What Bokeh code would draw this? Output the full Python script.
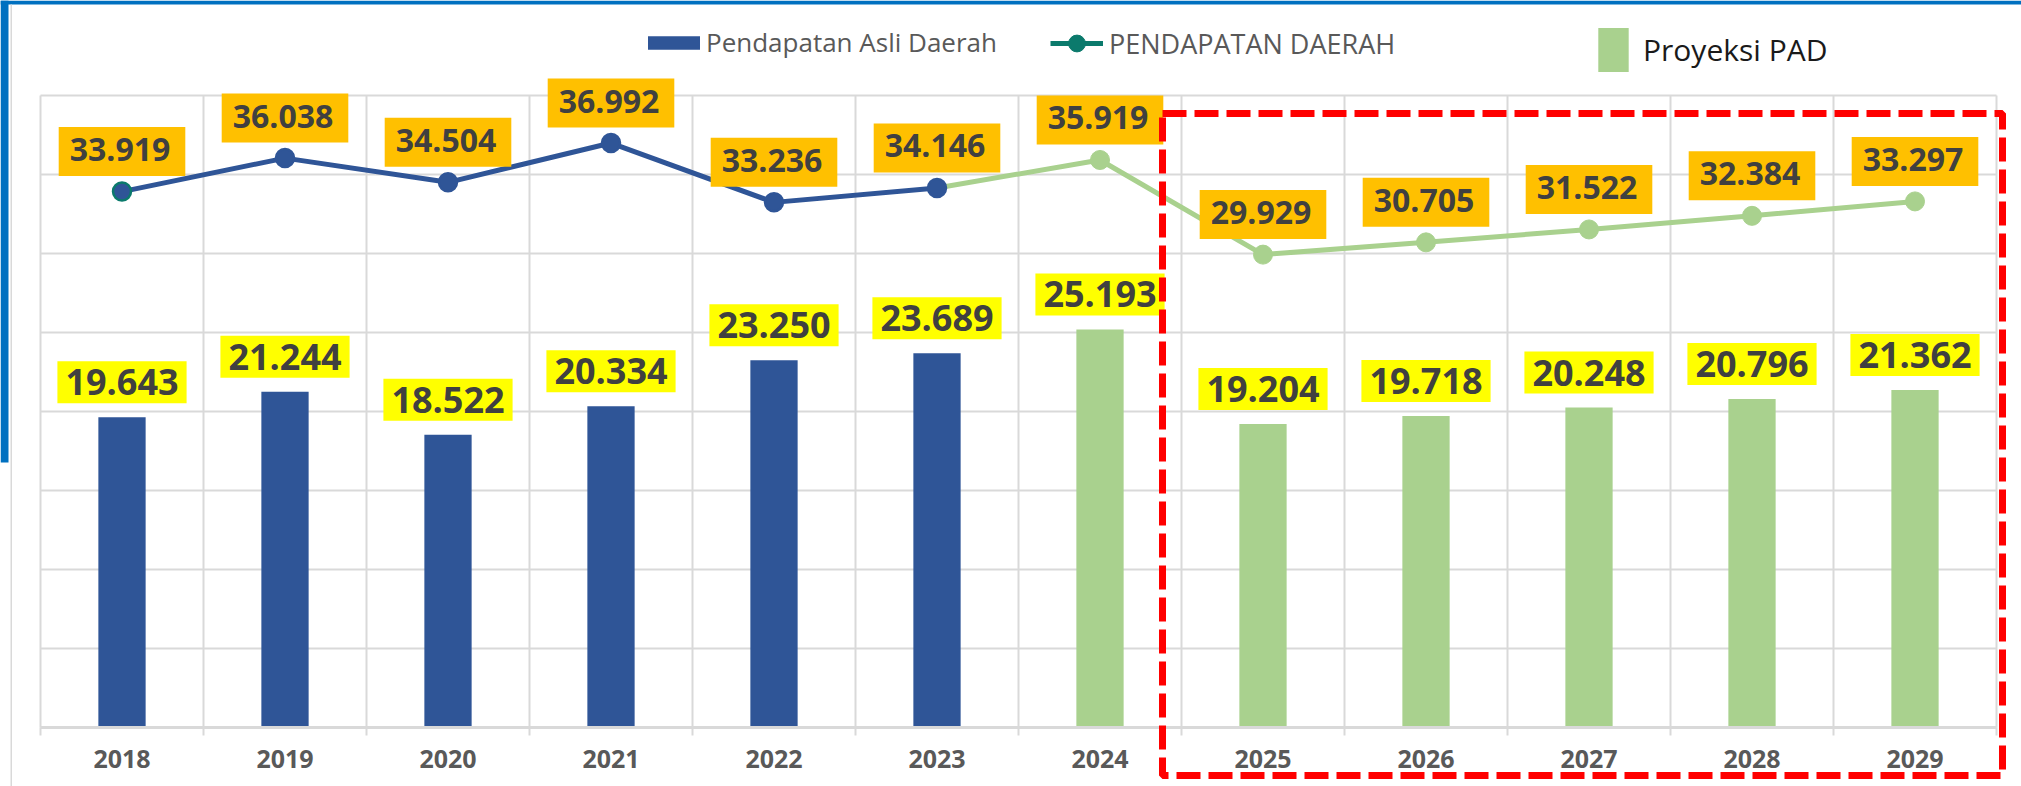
import numpy as np
from bokeh.plotting import figure
from bokeh.models import (Range1d, FixedTicker, Label, BoxAnnotation, Legend, LegendItem)
from bokeh.embed import file_html
from bokeh.resources import INLINE

# ---------------- data ----------------
years = ["2018", "2019", "2020", "2021", "2022", "2023",
         "2024", "2025", "2026", "2027", "2028", "2029"]
pad_values = [19.643, 21.244, 18.522, 20.334, 23.250, 23.689,
              25.193, 19.204, 19.718, 20.248, 20.796, 21.362]      # Pendapatan Asli Daerah (bars)
pd_values = [33.919, 36.038, 34.504, 36.992, 33.236, 34.146,
             35.919, 29.929, 30.705, 31.522, 32.384, 33.297]       # Pendapatan Daerah (line)
n_realised_bars = 6      # 2018-2023 realised, 2024+ projected (PAD bars)
n_realised_line = 6      # line blue up to 2023, green afterwards
y_ticks = [0, 5, 10, 15, 20, 25, 30, 35, 40]
y_max = 40

# ---------------- layout / styles ----------------
W, H = 2021, 786
AREA_L, AREA_R, AREA_T, AREA_B = 40, 1996, 95, 727     # chart area in canvas pixels
BLUE = "#2F5597"
GREEN = "#A9D18E"
TEAL = "#0B7A6C"
GRID = "#D9D9D9"
LABEL_TXT = "#404040"
FONT = "Open Sans"

n = len(years)
xc = np.arange(n) + 0.5

ppx = (AREA_R - AREA_L) / n          # pixels per category
ppy = (AREA_B - AREA_T) / y_max      # pixels per value unit
x_range = Range1d(-AREA_L / ppx, n + (W - AREA_R) / ppx)
y_range = Range1d(-(H - AREA_B) / ppy, y_max + AREA_T / ppy)

p = figure(width=W, height=H, x_range=x_range, y_range=y_range,
           output_backend="svg", toolbar_location=None,
           min_border_left=0, min_border_right=0, min_border_top=0, min_border_bottom=0,
           outline_line_color=None, background_fill_color="white", border_fill_color="white")

p.yaxis.visible = False
p.ygrid.ticker = FixedTicker(ticks=y_ticks)
p.xgrid.ticker = FixedTicker(ticks=list(range(n + 1)))
p.xgrid.cross_bounds = (0, y_max)
p.ygrid.cross_bounds = (0, n)
for g in (p.xgrid[0], p.ygrid[0]):
    g.grid_line_color = GRID
    g.grid_line_width = 2

ax = p.xaxis[0]
ax.fixed_location = 0
ax.bounds = (0, n)
ax.ticker = FixedTicker(ticks=list(xc), minor_ticks=list(range(n + 1)))
ax.major_label_overrides = {float(v): yr for v, yr in zip(xc, years)}
ax.axis_line_color = GRID
ax.axis_line_width = 3
ax.major_tick_line_color = None
ax.major_tick_out = 0
ax.major_tick_in = 0
ax.minor_tick_line_color = GRID
ax.minor_tick_line_width = 2
ax.minor_tick_out = 8
ax.minor_tick_in = 0
ax.major_label_standoff = 14
ax.major_label_text_font = FONT
ax.major_label_text_font_style = "bold"
ax.major_label_text_font_size = "25px"
ax.major_label_text_color = "#595959"

# ---------------- bars ----------------
bw = 0.29
r_bar_blue = p.vbar(x=xc[:n_realised_bars], top=pad_values[:n_realised_bars], width=bw,
                    fill_color=BLUE, line_color=None)
r_bar_green = p.vbar(x=xc[n_realised_bars:], top=pad_values[n_realised_bars:], width=bw,
                     fill_color=GREEN, line_color=None)

# ---------------- line ----------------
k = n_realised_line
p.line(x=xc[:k], y=pd_values[:k], line_color=BLUE, line_width=5)
p.line(x=xc[k - 1:], y=pd_values[k - 1:], line_color=GREEN, line_width=5)
p.scatter(x=xc[:k], y=pd_values[:k], marker="circle", size=18,
          fill_color=BLUE, line_color=[TEAL] + [BLUE] * (k - 1), line_width=2.5)
p.scatter(x=xc[k:], y=pd_values[k:], marker="circle", size=19,
          fill_color=GREEN, line_color=GREEN)

# legend-only renderers for the line series (one undrawable point so the legend has a glyph)
r_leg_line = p.line(x=[np.nan], y=[np.nan], line_color=TEAL, line_width=5)
r_leg_dot = p.scatter(x=[np.nan], y=[np.nan], marker="circle", size=17,
                      fill_color=TEAL, line_color=TEAL)

# ---------------- value labels ----------------
for xi, v in zip(xc, pd_values):
    p.add_layout(Label(x=xi, y=v, text=f"{v:.3f}", y_offset=40,
                       text_align="center", text_baseline="middle",
                       text_font=FONT, text_font_style="bold", text_font_size="32px",
                       text_color=LABEL_TXT, background_fill_color="#FFC000",
                       padding=(11, 15, 11, 15)))
for xi, v in zip(xc, pad_values):
    p.add_layout(Label(x=xi, y=v, text=f"{v:.3f}", y_offset=35,
                       text_align="center", text_baseline="middle",
                       text_font=FONT, text_font_style="bold", text_font_size="36px",
                       text_color=LABEL_TXT, background_fill_color="#FFFF00",
                       padding=(8, 8, 8, 8)))

# ---------------- legends ----------------
def make_legend(items, loc, gw, gh, standoff, size, color):
    return Legend(items=items, location=loc, orientation="horizontal",
                  glyph_width=gw, glyph_height=gh, label_standoff=standoff,
                  padding=0, margin=0, spacing=0, border_line_color=None,
                  background_fill_alpha=0, label_text_font=FONT,
                  label_text_font_size=size, label_text_color=color)

leg1 = make_legend([LegendItem(label="Pendapatan Asli Daerah", renderers=[r_bar_blue])],
                   (641, 726), 65, 17, 0, "26px", "#595959")
leg2 = make_legend([LegendItem(label="PENDAPATAN DAERAH", renderers=[r_leg_line, r_leg_dot])],
                   (1050, 722), 53, 42, 6, "27px", "#595959")
leg3 = make_legend([LegendItem(label="Proyeksi PAD", renderers=[r_bar_green])],
                   (1594, 709), 38, 55, 11, "30px", "#1A1A1A")
for lg in (leg1, leg2, leg3):
    p.add_layout(lg)

# ---------------- decorations ----------------
def canvas_box(l, r, t, b, **kw):
    return BoxAnnotation(left=l, right=r, top=t, bottom=b,
                         left_units="canvas", right_units="canvas",
                         top_units="canvas", bottom_units="canvas", **kw)

p.add_layout(canvas_box(0, W, 0, 4, fill_color="#0070C0", fill_alpha=1, line_alpha=0))
p.add_layout(canvas_box(0, 8, 0, 462, fill_color="#0070C0", fill_alpha=1, line_alpha=0))
p.add_layout(canvas_box(10, 11.5, 4, H, fill_color=GRID, fill_alpha=1, line_alpha=0))
p.add_layout(canvas_box(1162, 2002, 113, 775, fill_alpha=0, line_color="#FF0000",
                        line_alpha=1, line_width=7, line_dash="24 8"))

open("out.html", "w").write(file_html(p, INLINE))
